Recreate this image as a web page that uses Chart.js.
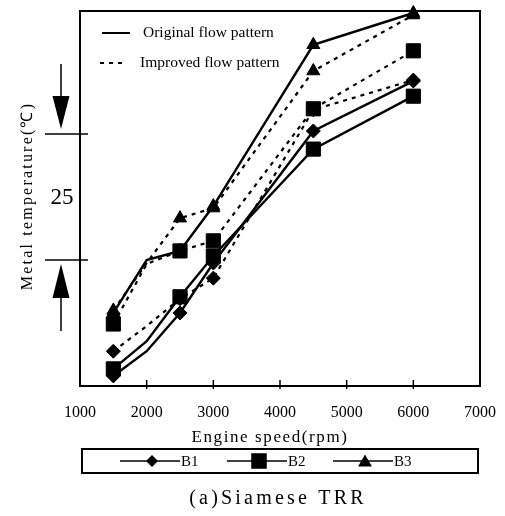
<!DOCTYPE html>
<html>
<head>
<meta charset="utf-8">
<script src="https://cdn.jsdelivr.net/npm/chart.js@4.4.1/dist/chart.umd.min.js"></script>
<style>
  html, body { margin: 0; padding: 0; background: #fff; }
  canvas { display: block; }
</style>
</head>
<body>
<canvas id="chart" width="505" height="516"></canvas>
<script>
// engine speed (rpm) and metal temperature, relative degC
const speeds = [1500, 2000, 2500, 3000, 4500, 6000];
const b1Original = [2.0, 6.9, 14.5, 24.4, 50.6, 60.5];
const b2Original = [3.4, 8.9, 17.7, 25.8, 47.0, 57.5];
const b3Original = [14.5, 25.0, 26.8, 35.7, 67.7, 74.0];
const b1Improved = [6.9, 11.9, 17.3, 21.4, 54.8, 60.7];
const b2Improved = [12.3, 24.2, 26.8, 28.8, 55.0, 66.5];
const b3Improved = [15.0, 24.4, 33.3, 35.3, 62.5, 73.6];

const speedTicks = [1000, 2000, 3000, 4000, 5000, 6000, 7000];
const seriesNames = ["B1", "B2", "B3"];
const bandLimits = [25, 50]; // the 25 degC span marked on the left
const bandLabel = "25";

const markers = ["rectRot", "rect", "triangle"];
const markerSizes = [7, 10, 7.5];
const SERIF = "'Liberation Serif', 'Times New Roman', serif";

function pts(vals) {
  return speeds.map((s, i) => ({ x: s, y: vals[i] }));
}

function series(vals, k, dashed) {
  return {
    label: seriesNames[k] + (dashed ? " improved" : " original"),
    data: pts(vals),
    borderColor: "#000",
    backgroundColor: "#000",
    borderWidth: dashed ? 2.2 : 2.4,
    borderDash: dashed ? [4, 5] : [],
    tension: 0,
    pointStyle: markers[k],
    pointRadius: ctx => (speeds[ctx.dataIndex] === 2000 ? 0 : markerSizes[k]),
    pointBackgroundColor: "#000",
    pointBorderColor: "#000",
    pointBorderWidth: 1,
    clip: false
  };
}

function line(c, x1, y1, x2, y2) {
  c.beginPath();
  c.moveTo(x1, y1);
  c.lineTo(x2, y2);
  c.stroke();
}

function marker(c, style, r, x, y) {
  c.beginPath();
  if (style === "rect") {
    const s = r * Math.SQRT1_2;
    c.rect(x - s, y - s, 2 * s, 2 * s);
  } else if (style === "rectRot") {
    c.moveTo(x, y - r);
    c.lineTo(x + r, y);
    c.lineTo(x, y + r);
    c.lineTo(x - r, y);
  } else {
    let a = 0;
    c.moveTo(x + Math.sin(a) * r, y - Math.cos(a) * r);
    a += (2 * Math.PI) / 3;
    c.lineTo(x + Math.sin(a) * r, y - Math.cos(a) * r);
    a += (2 * Math.PI) / 3;
    c.lineTo(x + Math.sin(a) * r, y - Math.cos(a) * r);
  }
  c.closePath();
  c.fill();
}

function arrow(c, x, from, tip, headLen, half) {
  const dir = Math.sign(tip - from);
  line(c, x, from, x, tip - dir * headLen);
  c.beginPath();
  c.moveTo(x, tip);
  c.lineTo(x - half, tip - dir * headLen);
  c.lineTo(x + half, tip - dir * headLen);
  c.closePath();
  c.fill();
}

function write(c, str, x, y, size, align, spacing) {
  c.font = size + "px " + SERIF;
  c.textAlign = align || "left";
  c.textBaseline = "middle";
  c.letterSpacing = (spacing || 0) + "px";
  c.fillText(str, x, y);
  c.letterSpacing = "0px";
}

const decor = {
  id: "decor",
  beforeDatasetsDraw(chart) {
    const c = chart.ctx;
    const a = chart.chartArea;
    const xs = chart.scales.x;
    c.save();
    c.strokeStyle = "#000";
    c.lineWidth = 2;
    c.strokeRect(a.left, a.top, a.right - a.left, a.bottom - a.top);
    c.lineWidth = 1.5;
    xs.ticks.forEach(t => {
      if (t.value <= xs.min || t.value >= xs.max) return;
      const px = xs.getPixelForValue(t.value);
      line(c, px, a.bottom - 6, px, a.bottom + 3);
    });
    c.restore();
  },
  afterDraw(chart) {
    const c = chart.ctx;
    const a = chart.chartArea;
    const ys = chart.scales.y;
    c.save();
    c.strokeStyle = "#000";
    c.fillStyle = "#000";

    // bracket for the 25 degC span
    const yLow = ys.getPixelForValue(bandLimits[0]);
    const yHigh = ys.getPixelForValue(bandLimits[1]);
    c.lineWidth = 1.5;
    line(c, 45, yHigh, a.left + 8, yHigh);
    line(c, 45, yLow, a.left + 8, yLow);
    arrow(c, 61, yHigh - 70, yHigh - 5, 33, 8.5);
    arrow(c, 61, yLow + 71, yLow + 4, 34, 8.5);
    write(c, bandLabel, 62, (yLow + yHigh) / 2 + 1, 23, "center");

    // line style key inside the plot
    c.lineWidth = 2;
    line(c, 102, 33, 130, 33);
    write(c, "Original flow pattern", 143, 33, 15.5);
    c.setLineDash([4, 5]);
    line(c, 100, 63, 124, 63);
    c.setLineDash([]);
    write(c, "Improved flow pattern", 140, 63, 15.5);

    // axis titles
    write(c, "Engine speed(rpm)", 270, 438, 17, "center", 1.6);
    c.save();
    c.translate(28, 196);
    c.rotate(-Math.PI / 2);
    write(c, "Metal temperature(\u2103)", 0, 0, 16, "center", 2.2);
    c.restore();

    // marker key box
    c.lineWidth = 2;
    c.strokeRect(82, 449, 396, 24);
    const keyX = [120, 227, 333];
    const keyY = 461;
    const keyR = [6, 11, 8];
    c.lineWidth = 1.5;
    seriesNames.forEach((name, k) => {
      const x0 = keyX[k];
      line(c, x0, keyY, x0 + 60, keyY);
      marker(c, markers[k], keyR[k], x0 + 32, keyY + (markers[k] === "triangle" ? 1.5 : 0));
      write(c, name, x0 + 61, keyY + 1, 15);
    });

    // figure caption
    write(c, "(a)Siamese TRR", 278, 499, 20, "center", 3.2);
    c.restore();
  }
};

new Chart(document.getElementById("chart"), {
  type: "line",
  data: {
    datasets: [
      series(b2Improved, 1, true),
      series(b1Improved, 0, true),
      series(b3Improved, 2, true),
      series(b1Original, 0, false),
      series(b2Original, 1, false),
      series(b3Original, 2, false)
    ]
  },
  options: {
    responsive: false,
    animation: false,
    devicePixelRatio: 1,
    layout: { padding: { top: 10, right: 25, left: 0, bottom: 70 } },
    plugins: { legend: { display: false }, tooltip: { enabled: false } },
    scales: {
      x: {
        type: "linear",
        min: 1000,
        max: 7000,
        afterBuildTicks: s => { s.ticks = speedTicks.map(v => ({ value: v })); },
        afterFit: s => { s.height = 60; },
        grid: { display: false, drawTicks: true, tickLength: 17 },
        border: { display: false },
        ticks: {
          color: "#000",
          padding: 0,
          maxRotation: 0,
          callback: v => String(v),
          font: { family: SERIF, size: 16 }
        }
      },
      y: {
        min: 0,
        max: 74.4,
        afterFit: s => { s.width = 80; },
        grid: { display: false, drawTicks: false },
        border: { display: false },
        ticks: { display: false }
      }
    }
  },
  plugins: [decor]
});
</script>
</body>
</html>
